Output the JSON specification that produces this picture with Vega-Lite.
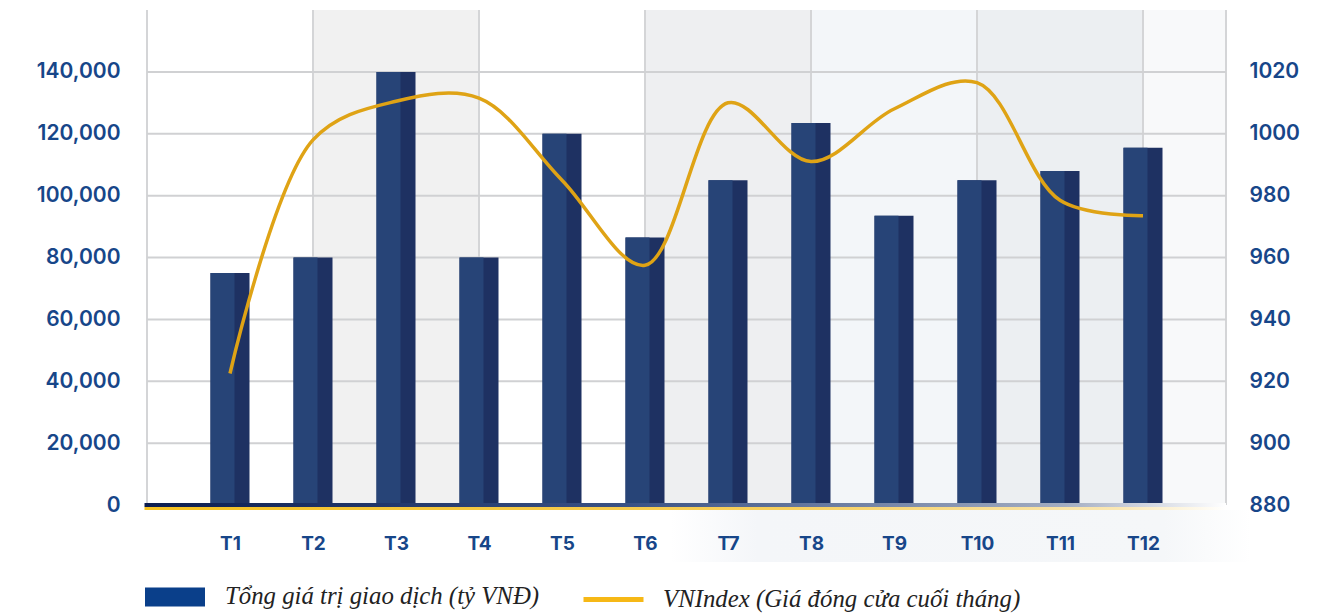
{
  "$schema": "https://vega.github.io/schema/vega-lite/v6.json",
  "width": 1079,
  "height": 495,
  "autosize": {"type": "none"},
  "padding": {"left": 147, "top": 10, "right": 112, "bottom": 109},
  "background": "#ffffff",
  "config": {
    "view": {"stroke": null},
    "scale": {"continuousPadding": 0},
    "axis": {"labelFont": "Inter", "labelColor": "#174689", "labelFontSize": 21, "labelFontWeight": 600, "domain": false, "ticks": false, "grid": false, "title": null}
  },
  "datasets": {
    "months": [
      {"m": 1, "total": 75000, "vni": 922.5},
      {"m": 2, "total": 80000, "vni": 998},
      {"m": 3, "total": 140000, "vni": 1010.5},
      {"m": 4, "total": 80000, "vni": 1011.5},
      {"m": 5, "total": 120000, "vni": 985},
      {"m": 6, "total": 86500, "vni": 957.5},
      {"m": 7, "total": 105000, "vni": 1010},
      {"m": 8, "total": 123500, "vni": 991},
      {"m": 9, "total": 93500, "vni": 1008},
      {"m": 10, "total": 105000, "vni": 1016.5},
      {"m": 11, "total": 108000, "vni": 978.5},
      {"m": 12, "total": 115500, "vni": 973.5}
    ],
    "bands": [
      {"m": 2, "m2": 4, "shade": "a"},
      {"m": 6, "m2": 8, "shade": "b"},
      {"m": 8, "m2": 10, "shade": "c"},
      {"m": 10, "m2": 12, "shade": "d"},
      {"m": 12, "m2": 13, "shade": "e"}
    ],
    "vgrid": [{"m": 0}, {"m": 2}, {"m": 4}, {"m": 6}, {"m": 8}, {"m": 10}, {"m": 12}, {"m": 13}],
    "hgrid": [{"g": 20000}, {"g": 40000}, {"g": 60000}, {"g": 80000}, {"g": 100000}, {"g": 120000}, {"g": 140000}]
  },
  "layer": [
    {
      "layer": [
        {
          "data": {"name": "bands"},
          "mark": {"type": "rect"},
          "encoding": {
            "x": {"field": "m", "type": "quantitative", "scale": {"domain": [0, 13], "nice": false, "zero": false, "padding": 0}, "title": null,
                  "axis": {"values": [1,2,3,4,5,6,7,8,9,10,11,12], "labelExpr": "'T' + datum.value", "labelPadding": 29, "labelFontWeight": "bold", "labelFontSize": 19, "zindex": 2}},
            "x2": {"field": "m2"},
            "color": {"field": "shade", "type": "nominal", "legend": null,
                      "scale": {"domain": ["a", "b", "c", "d", "e"], "range": ["#f1f1f1", "#eeeff1", "#f3f6f9", "#eceff2", "#f8f9fa"]}}
          }
        },
        {
          "data": {"values": [{}]},
          "mark": {"type": "rect", "fill": {"gradient": "linear", "stops": [{"offset": 0, "color": "#ffffff"}, {"offset": 0.15, "color": "#f4f6f9"}, {"offset": 0.85, "color": "#f5f7f9"}, {"offset": 1, "color": "#ffffff"}]}},
          "encoding": {
            "x": {"datum": 6.3, "type": "quantitative", "title": null, "scale": {"domain": [0, 13], "nice": false, "zero": false, "padding": 0},
                  "axis": {"values": [1,2,3,4,5,6,7,8,9,10,11,12], "labelExpr": "'T' + datum.value", "labelPadding": 29, "labelFontWeight": "bold", "labelFontSize": 19, "zindex": 2}},
            "x2": {"datum": 13.3},
            "y": {"datum": -1616, "type": "quantitative", "title": null, "scale": {"domain": [0, 160000], "nice": false},
                  "axis": {"values": [0, 20000, 40000, 60000, 80000, 100000, 120000, 140000], "format": ",d", "labelPadding": 27, "zindex": 2}},
            "y2": {"datum": -18400}
          }
        },
        {
          "data": {"name": "vgrid"},
          "mark": {"type": "rule", "stroke": "#d4d5d7", "strokeWidth": 2},
          "encoding": {"x": {"field": "m", "type": "quantitative", "title": null, "scale": {"domain": [0, 13], "nice": false, "zero": false, "padding": 0},
                  "axis": {"values": [1,2,3,4,5,6,7,8,9,10,11,12], "labelExpr": "'T' + datum.value", "labelPadding": 29, "labelFontWeight": "bold", "labelFontSize": 19, "zindex": 2}}}
        },
        {
          "data": {"name": "hgrid"},
          "mark": {"type": "rule", "stroke": "#d0d1d3", "strokeWidth": 2},
          "encoding": {
            "y": {"field": "g", "type": "quantitative", "title": null, "scale": {"domain": [0, 160000], "nice": false},
                  "axis": {"values": [0, 20000, 40000, 60000, 80000, 100000, 120000, 140000], "format": ",d", "labelPadding": 27, "zindex": 2}}
          }
        },
        {
          "data": {"name": "months"},
          "mark": {"type": "bar", "width": 39, "color": "#1e3162"},
          "encoding": {
            "x": {"field": "m", "type": "quantitative", "title": null, "scale": {"domain": [0, 13], "nice": false, "zero": false, "padding": 0},
                  "axis": {"values": [1,2,3,4,5,6,7,8,9,10,11,12], "labelExpr": "'T' + datum.value", "labelPadding": 29, "labelFontWeight": "bold", "labelFontSize": 19, "zindex": 2}},
            "y": {"field": "total", "type": "quantitative", "title": null, "scale": {"domain": [0, 160000], "nice": false},
                  "axis": {"values": [0, 20000, 40000, 60000, 80000, 100000, 120000, 140000], "format": ",d", "labelPadding": 27, "zindex": 2}}
          }
        },
        {
          "data": {"name": "months"},
          "mark": {"type": "bar", "width": 24, "xOffset": -7.5, "color": "#274477"},
          "encoding": {
            "x": {"field": "m", "type": "quantitative", "title": null, "scale": {"domain": [0, 13], "nice": false, "zero": false, "padding": 0},
                  "axis": {"values": [1,2,3,4,5,6,7,8,9,10,11,12], "labelExpr": "'T' + datum.value", "labelPadding": 29, "labelFontWeight": "bold", "labelFontSize": 19, "zindex": 2}},
            "y": {"field": "total", "type": "quantitative", "title": null, "scale": {"domain": [0, 160000], "nice": false},
                  "axis": {"values": [0, 20000, 40000, 60000, 80000, 100000, 120000, 140000], "format": ",d", "labelPadding": 27, "zindex": 2}}
          }
        },
        {
          "data": {"name": "months"},
          "mark": {"type": "bar", "width": 39},
          "encoding": {
            "x": {"field": "m", "type": "quantitative", "title": null, "scale": {"domain": [0, 13], "nice": false, "zero": false, "padding": 0},
                  "axis": {"values": [1,2,3,4,5,6,7,8,9,10,11,12], "labelExpr": "'T' + datum.value", "labelPadding": 29, "labelFontWeight": "bold", "labelFontSize": 19, "zindex": 2}},
            "y": {"datum": 0, "type": "quantitative", "title": null, "scale": {"domain": [0, 160000], "nice": false},
                  "axis": {"values": [0, 20000, 40000, 60000, 80000, 100000, 120000, 140000], "format": ",d", "labelPadding": 27, "zindex": 2}},
            "y2": {"datum": 0},
            "fill": {"datum": "Tổng giá trị giao dịch (tỷ VNĐ)", "type": "nominal",
                     "scale": {"range": ["#0a3f8a"]},
                     "legend": {"orient": "none", "legendX": -2, "legendY": 557, "title": null, "padding": 0,
                                "symbolType": "M-1,-0.32H1V0.32H-1Z", "symbolSize": 3600, "symbolStrokeWidth": 0, "symbolOpacity": 1,
                                "labelFont": "Liberation Serif", "labelFontStyle": "italic", "labelFontSize": 24.8, "labelColor": "#222222", "labelOffset": 20, "labelLimit": 600}}
          }
        },
        {
          "data": {"values": [{}]},
          "mark": {"type": "rect", "fill": {"gradient": "linear", "stops": [{"offset": 0, "color": "#0b1d50"}, {"offset": 0.45, "color": "#3a5285"}, {"offset": 0.85, "color": "#a3adc2"}, {"offset": 1, "color": "#ffffff"}]}},
          "encoding": {
            "x": {"datum": -0.03, "type": "quantitative", "title": null, "scale": {"domain": [0, 13], "nice": false, "zero": false, "padding": 0},
                  "axis": {"values": [1,2,3,4,5,6,7,8,9,10,11,12], "labelExpr": "'T' + datum.value", "labelPadding": 29, "labelFontWeight": "bold", "labelFontSize": 19, "zindex": 2}},
            "x2": {"datum": 13},
            "y": {"datum": 650, "type": "quantitative", "title": null, "scale": {"domain": [0, 160000], "nice": false},
                  "axis": {"values": [0, 20000, 40000, 60000, 80000, 100000, 120000, 140000], "format": ",d", "labelPadding": 27, "zindex": 2}},
            "y2": {"datum": -650}
          }
        },
        {
          "data": {"values": [{}]},
          "mark": {"type": "rect", "fill": {"gradient": "linear", "stops": [{"offset": 0, "color": "#f5c121"}, {"offset": 0.6, "color": "#f7cf5e"}, {"offset": 0.9, "color": "#fae7b4"}, {"offset": 1, "color": "#ffffff"}]}},
          "encoding": {
            "x": {"datum": -0.03, "type": "quantitative", "title": null, "scale": {"domain": [0, 13], "nice": false, "zero": false, "padding": 0},
                  "axis": {"values": [1,2,3,4,5,6,7,8,9,10,11,12], "labelExpr": "'T' + datum.value", "labelPadding": 29, "labelFontWeight": "bold", "labelFontSize": 19, "zindex": 2}},
            "x2": {"datum": 13},
            "y": {"datum": -650, "type": "quantitative", "title": null, "scale": {"domain": [0, 160000], "nice": false},
                  "axis": {"values": [0, 20000, 40000, 60000, 80000, 100000, 120000, 140000], "format": ",d", "labelPadding": 27, "zindex": 2}},
            "y2": {"datum": -1616}
          }
        }
      ]
    },
    {
      "layer": [
        {
          "data": {"name": "months"},
          "mark": {"type": "line", "interpolate": "catmull-rom", "strokeWidth": 3.5, "color": "#dfa315"},
          "encoding": {
            "x": {"field": "m", "type": "quantitative", "title": null, "scale": {"domain": [0, 13], "nice": false, "zero": false, "padding": 0},
                  "axis": {"values": [1,2,3,4,5,6,7,8,9,10,11,12], "labelExpr": "'T' + datum.value", "labelPadding": 29, "labelFontWeight": "bold", "labelFontSize": 19, "zindex": 2}},
            "y": {"field": "vni", "type": "quantitative", "title": null,
                  "scale": {"domain": [880, 1040], "nice": false, "zero": false},
                  "axis": {"orient": "right", "values": [880, 900, 920, 940, 960, 980, 1000, 1020], "format": "d", "labelPadding": 23, "zindex": 2}}
          }
        },
        {
          "data": {"values": [{}]},
          "mark": {"type": "line", "strokeWidth": 5},
          "encoding": {
            "x": {"datum": 1, "type": "quantitative", "title": null, "scale": {"domain": [0, 13], "nice": false, "zero": false, "padding": 0},
                  "axis": {"values": [1,2,3,4,5,6,7,8,9,10,11,12], "labelExpr": "'T' + datum.value", "labelPadding": 29, "labelFontWeight": "bold", "labelFontSize": 19, "zindex": 2}},
            "y": {"datum": 922.5, "type": "quantitative", "title": null,
                  "scale": {"domain": [880, 1040], "nice": false, "zero": false},
                  "axis": {"orient": "right", "values": [880, 900, 920, 940, 960, 980, 1000, 1020], "format": "d", "labelPadding": 23, "zindex": 2}},
            "stroke": {"datum": "VNIndex (Giá đóng cửa cuối tháng)", "type": "nominal",
                       "scale": {"range": ["#f6b816"]},
                       "legend": {"orient": "none", "legendX": 434, "legendY": 557, "title": null, "padding": 0,
                                  "symbolType": "stroke", "symbolSize": 3600, "symbolStrokeWidth": 5, "symbolOpacity": 1,
                                  "labelFont": "Liberation Serif", "labelFontStyle": "italic", "labelFontSize": 24.8, "labelColor": "#222222", "labelOffset": 17, "labelLimit": 600}}
          }
        }
      ]
    }
  ],
  "resolve": {"scale": {"y": "independent"}}
}
